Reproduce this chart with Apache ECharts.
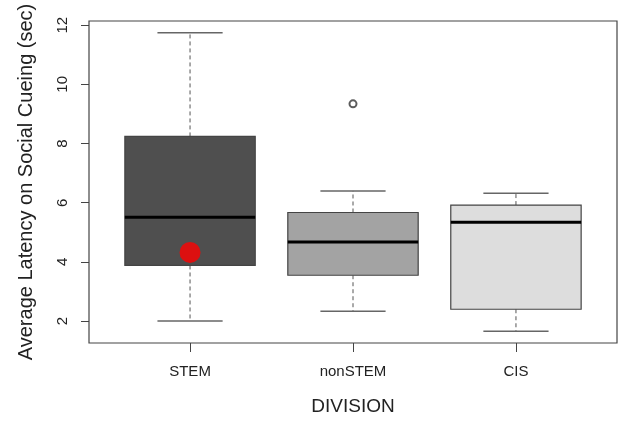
<!DOCTYPE html>
<html>
<head>
<meta charset="utf-8">
<script src="https://cdn.jsdelivr.net/npm/echarts@6/dist/echarts.min.js"></script>
<style>
    html, body { margin: 0; padding: 0; background: #fff; }
    #chart { width: 621px; height: 421px; }
</style>
</head>
<body>
<div id="chart"></div>
<script>
    // values
    const divisions = ['STEM', 'nonSTEM', 'CIS']
    const whiskerLow = [2.0, 2.33, 1.66]
    const quartile1 = [3.88, 3.55, 2.40]
    const medians = [5.51, 4.67, 5.34]
    const quartile3 = [8.24, 5.67, 5.92]
    const whiskerHigh = [11.74, 6.40, 6.32]
    const outliers = [[2, 9.34]]
    const highlight = [[1, 4.32]]
    const yTicks = [2, 4, 6, 8, 10, 12]
    const xTicks = [1, 2, 3]

    const fills = ['#4f4f4f', '#a3a3a3', '#dddddd']
    const font = 'Liberation Sans, Arial, sans-serif'

    const boxData = divisions.map((name, i) => [
        i + 1, whiskerLow[i], quartile1[i], medians[i], quartile3[i], whiskerHigh[i]
    ])

    function renderBox(params, api) {
        const x = api.value(0)
        const lo = api.coord([x, api.value(1)])
        const q1 = api.coord([x, api.value(2)])
        const md = api.coord([x, api.value(3)])
        const q3 = api.coord([x, api.value(4)])
        const hi = api.coord([x, api.value(5)])
        const bw = api.size([0.8, 0])[0]
        const cw = bw / 2
        const cx = md[0]
        const whisker = { stroke: '#555', lineWidth: 1, lineDash: [4, 3] }
        const cap = { stroke: '#666', lineWidth: 1.5 }
        return {
            type: 'group',
            children: [
                { type: 'line', shape: { x1: cx, y1: q3[1], x2: cx, y2: hi[1] }, style: whisker },
                { type: 'line', shape: { x1: cx, y1: q1[1], x2: cx, y2: lo[1] }, style: whisker },
                { type: 'line', shape: { x1: cx - cw / 2, y1: hi[1], x2: cx + cw / 2, y2: hi[1] }, style: cap },
                { type: 'line', shape: { x1: cx - cw / 2, y1: lo[1], x2: cx + cw / 2, y2: lo[1] }, style: cap },
                {
                    type: 'rect',
                    shape: { x: cx - bw / 2, y: q3[1], width: bw, height: q1[1] - q3[1] },
                    style: { fill: fills[params.dataIndex], stroke: '#444', lineWidth: 1.2 }
                },
                { type: 'line', shape: { x1: cx - bw / 2, y1: md[1], x2: cx + bw / 2, y2: md[1] }, style: { stroke: '#000', lineWidth: 3 } }
            ]
        }
    }

    const chart = echarts.init(document.getElementById('chart'))
    chart.setOption({
        animation: false,
        textStyle: { fontFamily: font },
        grid: {
            left: 89,
            right: 4,
            top: 21,
            bottom: 77,
            show: true,
            borderColor: '#444',
            borderWidth: 1.2
        },
        xAxis: {
            type: 'value',
            min: 0.38,
            max: 3.62,
            name: 'DIVISION',
            nameLocation: 'middle',
            nameGap: 54,
            nameTextStyle: { fontSize: 19, color: '#222', fontFamily: font },
            axisLine: { show: false },
            axisTick: { show: true, customValues: xTicks, length: 9, lineStyle: { color: '#444' } },
            axisLabel: {
                customValues: xTicks,
                formatter: v => divisions[v - 1],
                fontSize: 15,
                color: '#222',
                margin: 21
            },
            splitLine: { show: false }
        },
        yAxis: {
            type: 'value',
            min: 1.26,
            max: 12.14,
            name: 'Average Latency on Social Cueing (sec)',
            nameLocation: 'middle',
            nameGap: 53,
            nameTextStyle: { fontSize: 20, color: '#222', fontFamily: font },
            axisLine: { show: false },
            axisTick: { show: true, customValues: yTicks, length: 8, lineStyle: { color: '#444' } },
            axisLabel: {
                customValues: yTicks,
                rotate: 90,
                fontSize: 15,
                color: '#222',
                margin: 19
            },
            splitLine: { show: false }
        },
        series: [
            {
                type: 'custom',
                renderItem: renderBox,
                data: boxData,
                encode: { x: 0, y: [1, 2, 3, 4, 5] },
                z: 2
            },
            {
                type: 'scatter',
                data: outliers,
                symbol: 'emptyCircle',
                symbolSize: 7,
                itemStyle: { color: '#333', borderColor: '#333', borderWidth: 1.5 },
                z: 3
            },
            {
                type: 'scatter',
                data: highlight,
                symbolSize: 21,
                itemStyle: { color: '#ff0000' },
                z: 4
            }
        ]
    })
</script>
</body>
</html>
